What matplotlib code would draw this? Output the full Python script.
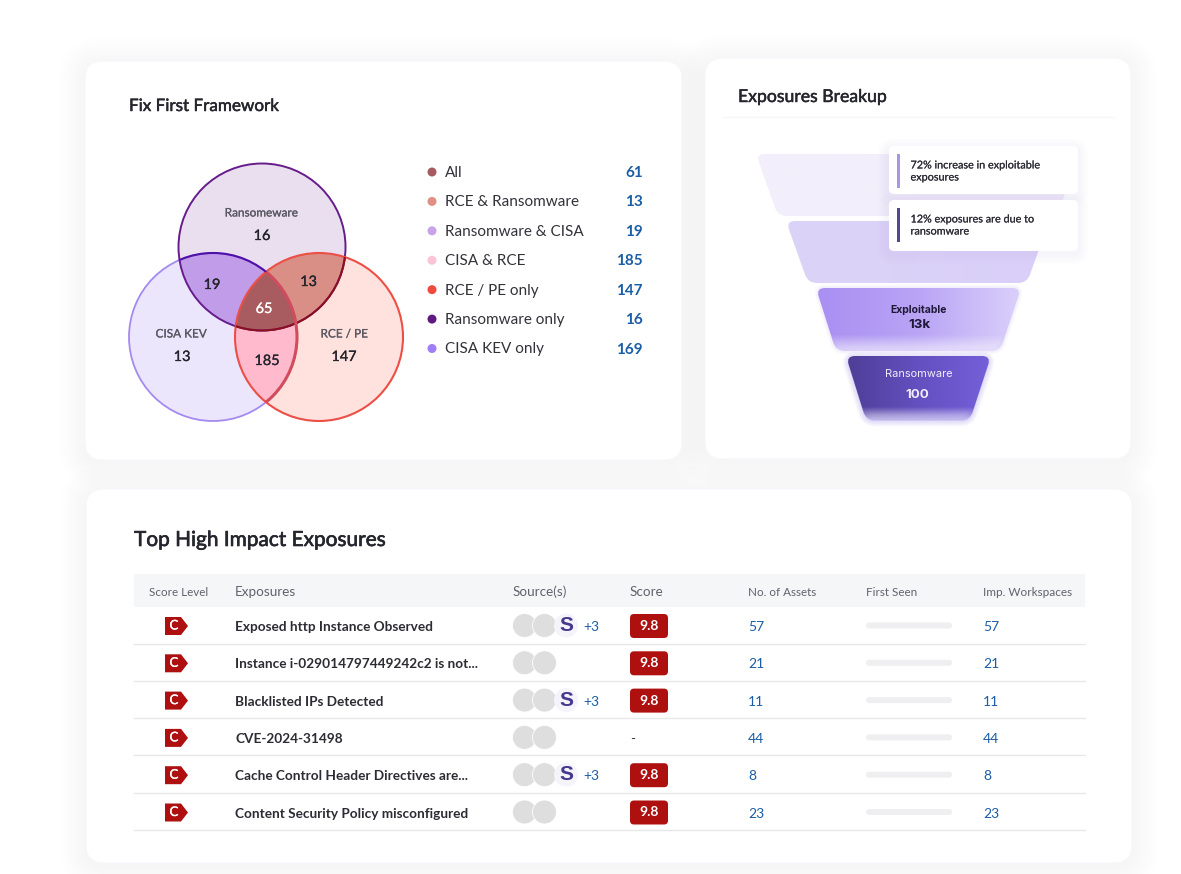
import numpy as np
import matplotlib
matplotlib.use("Agg")
import matplotlib.pyplot as plt
import matplotlib.patheffects as pe
from matplotlib.patches import Circle, FancyBboxPatch, PathPatch, Polygon, Rectangle
from matplotlib.path import Path
from matplotlib.colors import LinearSegmentedColormap

plt.rcParams['font.family'] = ['Lato', 'DejaVu Sans']

# ---- data ----
legend_labels = ["All", "RCE & Ransomware", "Ransomware & CISA", "CISA & RCE",
                 "RCE / PE only", "Ransomware only", "CISA KEV only"]
legend_values = [61, 13, 19, 185, 147, 16, 169]
legend_colors = ["#A85A63", "#E08F85", "#C9A3E8", "#FBC4D6", "#EE4B3E", "#5E1A80", "#A07EF5"]

funnel_labels = ["Exploitable", "Ransomware"]
funnel_values = ["13k", "100"]
notes = ["72% increase in exploitable\nexposures", "12% exposures are due to\nransomware"]

columns = ["Score Level", "Exposures", "Source(s)", "Score", "No. of Assets", "First Seen", "Imp. Workspaces"]
exposures = ["Exposed http Instance Observed", "Instance i-029014797449242c2 is not...",
             "Blacklisted IPs Detected", "CVE-2024-31498",
             "Cache Control Header Directives are...", "Content Security Policy misconfigured"]
levels = ["C"] * 6
scores = ["9.8", "9.8", "9.8", "-", "9.8", "9.8"]
assets = [57, 21, 11, 44, 8, 23]
workspaces = [57, 21, 11, 44, 8, 23]
extra_sources = [3, 0, 3, 0, 3, 0]

W, H = 1181, 874
fig = plt.figure(figsize=(W / 100, H / 100), dpi=100, facecolor="white")
ax = fig.add_axes([0, 0, 1, 1])
ax.set_xlim(0, W)
ax.set_ylim(H, 0)
ax.axis("off")

TZ = 30


def put(x, y, s, stroke=0, **kw):
    """Text one pixel lower than the box centre; stroke fakes a medium weight."""
    kw.setdefault("va", "center")
    kw.setdefault("zorder", TZ)
    t = ax.text(x, y + 1, s, **kw)
    if stroke:
        t.set_path_effects([pe.withStroke(linewidth=stroke, foreground=kw.get("color", "black"))])
    return t


def card(x0, y0, x1, y1, tint="#7A5CF0", spread=26, strength=0.002):
    for i in range(spread, 0, -3):
        ax.add_patch(FancyBboxPatch((x0 - i, y0 - i + 3), x1 - x0 + 2 * i, y1 - y0 + 2 * i,
                                    boxstyle="round,pad=0,rounding_size=%d" % (18 + i),
                                    fc=tint, ec="none", alpha=strength, zorder=1))
    ax.add_patch(FancyBboxPatch((x0, y0), x1 - x0, y1 - y0,
                                boxstyle="round,pad=0,rounding_size=18",
                                fc="white", ec="#F7F6FC", lw=0.8, zorder=2))


card(85, 61, 682, 460)
card(705, 58, 1131, 459)
card(86, 489, 1132, 863, strength=0.004)

# ---- venn ----
C_R = ((262, 247), 83.5)
C_C = ((213, 337), 84)
C_E = ((319, 337), 84)


def circ(c, **kw):
    return Circle(c[0], c[1], **kw)


Z = 3
for c, fc in [(C_R, "#E9DFEE"), (C_C, "#ECE6FD"), (C_E, "#FFE2DD")]:
    ax.add_patch(circ(c, fc=fc, ec="none", zorder=Z))


def lens(a, b, color, z):
    p = circ(a, fc=color, ec="none", zorder=z)
    ax.add_patch(p)
    p.set_clip_path(circ(b, transform=ax.transData))


lens(C_R, C_C, "#C19CE9", Z + 1)
lens(C_R, C_E, "#D98F86", Z + 1)
lens(C_C, C_E, "#FFBACD", Z + 1)

# triple overlap region
th = np.linspace(0, 2 * np.pi, 1440)
pts = []
cs = [C_R, C_C, C_E]
for i, c in enumerate(cs):
    xy = np.c_[c[0][0] + c[1] * np.cos(th), c[0][1] + c[1] * np.sin(th)]
    keep = np.ones(len(xy), bool)
    for j, o in enumerate(cs):
        if j != i:
            keep &= np.hypot(xy[:, 0] - o[0][0], xy[:, 1] - o[0][1]) <= o[1]
    pts.append(xy[keep])
pts = np.vstack(pts)
ctr = pts.mean(0)
pts = pts[np.argsort(np.arctan2(pts[:, 1] - ctr[1], pts[:, 0] - ctr[0]))]
ax.add_patch(Polygon(pts, closed=True, fc="#A95C5F", ec="none", zorder=Z + 2))

ax.add_patch(circ(C_C, fc="none", ec="#A48AF0", lw=1.3, zorder=Z + 3))
ax.add_patch(circ(C_R, fc="none", ec="#671C8C", lw=1.4, zorder=Z + 4))
ax.add_patch(circ(C_E, fc="none", ec="#EC4F45", lw=1.5, zorder=Z + 5))
# darker arcs inside the overlaps
a1 = circ(C_C, fc="none", ec="#4F10A8", lw=1.5, zorder=Z + 6)
ax.add_patch(a1)
a1.set_clip_path(circ(C_R, transform=ax.transData))
a2 = circ(C_R, fc="none", ec="#8C0F20", lw=1.5, zorder=Z + 6)
ax.add_patch(a2)
a2.set_clip_path(circ(C_E, transform=ax.transData))
a3 = circ(C_C, fc="none", ec="#D14C5C", lw=2.2, zorder=Z + 6)
ax.add_patch(a3)
a3.set_clip_path(circ(C_E, transform=ax.transData))

dark = "#24242C"
for x, y, s in [(261.5, 212, "Ransomeware"), (181, 333, "CISA KEV"), (344, 333, "RCE / PE")]:
    put(x, y, s, stroke=0.15, ha="center", fontsize=8.5, color="#5A5863")
for x, y, s, col in [(262, 235, "16", dark), (182, 356, "13", dark), (344, 356, "147", dark),
                     (212, 284, "19", dark), (308.5, 281, "13", dark), (264, 308, "65", "white"),
                     (267, 360, "185", dark)]:
    put(x, y, s, stroke=0.2, ha="center", fontsize=10.4, color=col)

put(129, 105, "Fix First Framework", stroke=0.35, ha="left", fontsize=12.3, color="#25252D")
put(738, 96, "Exposures Breakup", stroke=0.35, ha="left", fontsize=12.7, color="#25252D")
ax.plot([722, 1114], [117, 117], color="#F7F6FB", lw=1, zorder=3)

# ---- legend ----
ly = np.linspace(172, 348.5, len(legend_labels))
for y, lab, val, col in zip(ly, legend_labels, legend_values, legend_colors):
    ax.add_patch(Circle((432, y), 4.5, fc=col, ec="none", zorder=TZ))
    put(445, y, lab, ha="left", fontsize=11, color="#33323A")
    put(643, y, str(val), ha="right", fontsize=11, weight="bold", color="#1B5DA6")


# ---- funnel ----
def rounded_poly(p, r):
    p = np.asarray(p, float)
    n = len(p)
    verts, codes = [], []
    for i in range(n):
        a, b, c = p[i - 1], p[i], p[(i + 1) % n]
        u = (a - b) / np.linalg.norm(a - b)
        v = (c - b) / np.linalg.norm(c - b)
        s, e = b + u * r, b + v * r
        verts += [s, b, e]
        codes += [Path.LINETO if i else Path.MOVETO, Path.CURVE3, Path.CURVE3]
    verts.append(verts[0])
    codes.append(Path.CLOSEPOLY)
    return Path(verts, codes)


def trap(tl, tr, bl, br, top, bot):
    return [(tl, top), (tr, top), (br, bot), (bl, bot)]


def grad_fill(poly, cols, z, radius=9, fade_from=None, end_alpha=0.0):
    path = rounded_poly(poly, radius)
    xs = [q[0] for q in poly]
    ys = [q[1] for q in poly]
    cm = LinearSegmentedColormap.from_list("g", cols)
    rgba = cm(np.linspace(0, 1, 256).reshape(1, -1))
    rgba = np.repeat(rgba, 64, axis=0)
    if fade_from is not None:
        ramp = np.linspace(0, 1, 64).reshape(-1, 1)
        t = np.clip((ramp - fade_from) / (1 - fade_from), 0, 1)
        rgba[..., 3] = 1 - t * (1 - end_alpha)
    im = ax.imshow(rgba, extent=(min(xs), max(xs), max(ys), min(ys)), aspect="auto",
                   zorder=z, interpolation="bilinear")
    im.set_clip_path(PathPatch(path, transform=ax.transData))
    ax.set_xlim(0, W)
    ax.set_ylim(H, 0)


def glow(poly, color, z, n=7, step=1.6, a=0.05, dy=0):
    q = [(x, y + dy) for x, y in poly]
    for i in range(n, 0, -1):
        ax.add_patch(PathPatch(rounded_poly(q, 9), fc=color, ec=color, lw=i * step, alpha=a,
                               joinstyle="round", zorder=z))


P1 = trap(756, 1079, 778, 1057, 154, 216)
P2 = trap(786, 1049, 808, 1027, 221, 283)
P3 = trap(816, 1021, 836, 1000, 288, 351)
P4 = trap(846, 991, 866, 970, 356, 420)
grad_fill(P1, ["#F3EFFB", "#F1EDFB"], 4)
grad_fill(P2, ["#DCD4F7", "#D9CFF9"], 4)
glow(P3, "#D6CAFA", 4, n=3, a=0.10)
grad_fill(P3, ["#A88FF2", "#B9A4F5", "#DBD0FB"], 5, fade_from=0.74, end_alpha=0.25)
glow(P4, "#8F7EE6", 4, n=6, step=1.3, a=0.045, dy=1)
grad_fill(P4, ["#4E3E96", "#6450C0", "#7560DA"], 5, fade_from=0.8, end_alpha=0.15)

fx = 917.5
finter = ["Inter", "DejaVu Sans"]
put(fx + 1, 309, funnel_labels[0], ha="center", fontsize=7.5, weight="bold", color="#1E1838", family=finter)
put(fx + 2, 324, funnel_values[0], ha="center", fontsize=9.6, weight="bold", color="#1E1838", family=finter)
put(fx + 1, 373, funnel_labels[1], ha="center", fontsize=7.9, color="#F1EEFC", family=finter)
put(fx + 0, 394, funnel_values[1], ha="center", fontsize=9.6, weight="bold", color="#F1EEFC", family=finter)

# note boxes
for y0, y1, barcol, txt, ty in [(146, 194, "#A995E6", notes[0], 170), (200, 251, "#544692", notes[1], 224)]:
    for i in range(10, 0, -2):
        ax.add_patch(FancyBboxPatch((888 - i, y0 - i + 3), 190 + 2 * i, y1 - y0 + 2 * i,
                                    boxstyle="round,pad=0,rounding_size=%d" % (5 + i),
                                    fc="#6A50E0", ec="none", alpha=0.007, zorder=6))
    ax.add_patch(FancyBboxPatch((889, y0), 189, y1 - y0, boxstyle="round,pad=0,rounding_size=5",
                                fc="white", ec="none", zorder=7))
    ax.add_patch(Rectangle((897, y0 + 8), 3, 34, fc=barcol, ec="none", zorder=8))
    put(910.5, ty, txt, stroke=0.1, ha="left", fontsize=7.8, color="#2C2C36", linespacing=1.12)

# ---- table ----
put(134, 539, "Top High Impact Exposures", stroke=0.45, ha="left", fontsize=15, color="#25252D")
ax.add_patch(Rectangle((134, 574), 951, 33, fc="#F4F6F8", ec="none", zorder=3))
col_x = [149, 235, 513, 630, 748, 866, 983]
col_fs = [8.4, 9.7, 9.7, 9.7, 8.4, 8.4, 8.5]
for x, s, fs in zip(col_x, columns, col_fs):
    put(x, 591, s, ha="left", fontsize=fs, color="#62626C")

rows = np.linspace(626, 812.5, len(exposures))
lines = np.linspace(643.5, 830, len(exposures))
blue = "#1B5DA6"
for i, y in enumerate(rows):
    ax.plot([134, 1085], [lines[i], lines[i]], color="#E6E8EA", lw=1, zorder=3)
    # level tag
    ax.add_patch(Polygon([(165, y - 9), (181, y - 9), (188, y), (181, y + 9), (165, y + 9)],
                         closed=True, fc="#AE1010", ec="none", zorder=5))
    put(174, y - 1.5, levels[i], ha="center", fontsize=9.6, color="white", stroke=0.2)
    put(235, y, exposures[i], ha="left", fontsize=9.8, weight="bold", color="#2C2C34")
    # sources
    ax.add_patch(Circle((524.5, y - 0.5), 12, fc="#DEDEDE", ec="white", lw=0.6, zorder=5))
    ax.add_patch(Circle((544.5, y - 0.5), 12, fc="#DEDEDE", ec="white", lw=0.6, zorder=6))
    if extra_sources[i]:
        ax.add_patch(Circle((566, y - 0.5), 12, fc="#F6F4FB", ec="none", zorder=7))
        put(566, y - 1.5, "S", ha="center", fontsize=15, weight="bold", color="#46388F",
            family=["Liberation Sans", "DejaVu Sans"])
        put(583, y, "+%d" % extra_sources[i], ha="left", fontsize=10, color=blue)
    # score
    if scores[i] == "-":
        put(630, y, "-", ha="left", fontsize=9.6, color="#33323A")
    else:
        ax.add_patch(FancyBboxPatch((630, y - 12), 38, 24, boxstyle="round,pad=0,rounding_size=4",
                                    fc="#AE1010", ec="none", zorder=5))
        put(649, y - 1, scores[i], ha="center", fontsize=10, weight="bold", color="white")
    put(748, y, str(assets[i]), ha="left", fontsize=10, color=blue)
    ax.add_patch(FancyBboxPatch((866, y - 3.5), 86, 6, boxstyle="round,pad=0,rounding_size=3",
                                fc="#EFEFF1", ec="none", zorder=5))
    put(983, y, str(workspaces[i]), ha="left", fontsize=10, color=blue)

fig.savefig("out.png", dpi=100, facecolor="white")
